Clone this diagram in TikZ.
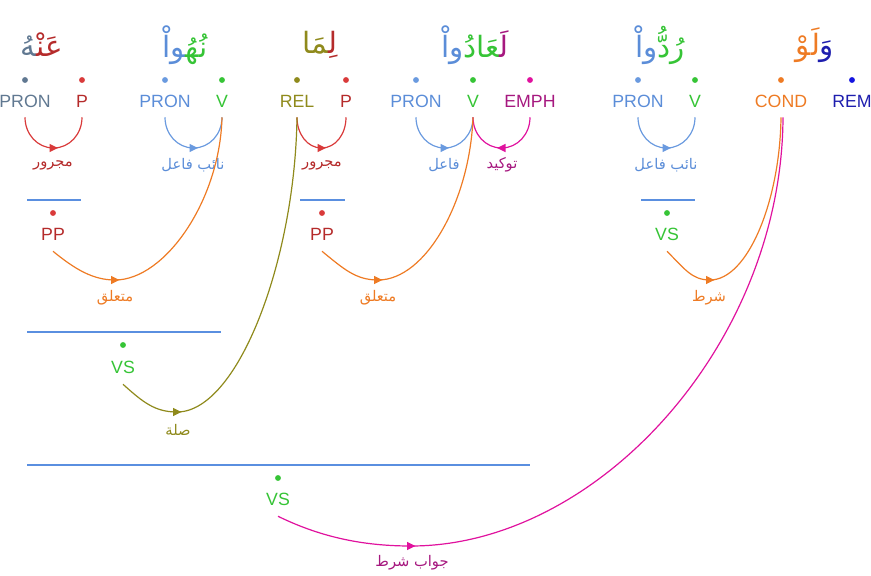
\documentclass[tikz,border=0pt]{standalone}
\usepackage{fontspec}
\setmainfont{Liberation Sans}
\newfontfamily\arabicfont[Script=Arabic]{DejaVu Sans}
\TeXXeTstate=1
\usetikzlibrary{calc}
\def\zj{^^^^200d}
\newcommand\arb[1]{\arabicfont\beginR #1\endR}
\definecolor{slate}{HTML}{607891}
\definecolor{redc}{HTML}{D93A3A}
\definecolor{redt}{HTML}{B52B2B}
\definecolor{bluec}{HTML}{6A9ADF}
\definecolor{bluet}{HTML}{5B8DD8}
\definecolor{greenc}{HTML}{36C436}
\definecolor{olive}{HTML}{8F8A1C}
\definecolor{magc}{HTML}{E0129E}
\definecolor{magt}{HTML}{A6187F}
\definecolor{orangec}{HTML}{EE7B24}
\definecolor{dbluec}{HTML}{1414E0}
\definecolor{dbluet}{HTML}{1E1EAE}
\definecolor{linec}{HTML}{5A8FE0}
\tikzset{
  x=0.75pt, y=-0.75pt,
  word/.style={inner sep=0pt, font=\arabicfont\fontsize{22}{26}\selectfont},
  tag/.style={inner sep=0pt, minimum height=24pt, font=\fontsize{13.3}{16}\selectfont},
  phr/.style={inner sep=0pt, minimum height=25.5pt, font=\fontsize{13.3}{16}\selectfont},
  rel/.style={inner sep=0pt, font=\arabicfont\fontsize{11}{13}\selectfont},
  arcline/.style={line width=0.9pt},
  pline/.style={line width=1.1pt, linec},
  tipR/.pic={\fill (4.5,0) -- (-4,-4.2) -- (-4,4.2) -- cycle;},
  tipL/.pic={\fill (-4.5,0) -- (4,-4.2) -- (4,4.2) -- cycle;},
}
\begin{document}
\begin{tikzpicture}
\useasboundingbox (0,0) rectangle (871,575);
% words (pieces in visual order, left to right)
\node[word] (w1) at (42,45) {{\color{slate}\zj هُ}{\color{redt}عَنْ\zj}};
\node[word] (w2) at (185,45) {{\color{bluet}\zj واْ}{\color{greenc}نُهُ\zj}};
\node[word] (w3) at (320,45) {{\color{olive}\zj مَا}{\color{redt}لِ\zj}};
\node[word] (w4) at (475,45) {{\color{bluet}واْ}{\color{greenc}\zj عَادُ}{\color{magt}لَ\zj}};
\node[word] (w5) at (660,45) {{\color{bluet}واْ}{\color{greenc}رُدُّ}};
\node[word] (w6) at (815,45) {{\color{orangec}لَوْ}{\color{dbluet}وَ}};
% dots
\foreach \x/\c in {25/slate,82/redc,165/bluec,222/greenc,297/olive,346/redc,416/bluec,473/greenc,530/magc,638/bluec,695/greenc,781/orangec,852/dbluec}
  \fill[\c] (\x,80) circle (2.2pt);
% tags
\node[tag, text=slate] (t1) at (25,101) {PRON};
\node[tag, text=redt] (t2) at (82,101) {P};
\node[tag, text=bluet] (t3) at (165,101) {PRON};
\node[tag, text=greenc] (t4) at (222,101) {V};
\node[tag, text=olive] (t5) at (297,101) {REL};
\node[tag, text=redt] (t6) at (346,101) {P};
\node[tag, text=bluet] (t7) at (416,101) {PRON};
\node[tag, text=greenc] (t8) at (473,101) {V};
\node[tag, text=magt] (t9) at (530,101) {EMPH};
\node[tag, text=bluet] (t10) at (638,101) {PRON};
\node[tag, text=greenc] (t11) at (695,101) {V};
\node[tag, text=orangec] (t12) at (781,101) {COND};
\node[tag, text=dbluet] (t13) at (852,101) {REM};
% small arcs
\coordinate (m1) at (53.5,148);
\coordinate (m2) at (193.5,148);
\coordinate (m3) at (321.5,148);
\coordinate (m4) at (444.5,148);
\coordinate (m5) at (501.5,148);
\coordinate (m6) at (666.5,148);
\draw[arcline, redc] (t1.south) .. controls +(0,17) and +(-16,0) .. (m1) .. controls +(16,0) and +(0,17) .. (t2.south);
\pic[redc] at (m1) {tipR};
\node[rel, text=redt] (l1) at (53,165) {\arb{مجرور}};
\draw[arcline, bluec] (t3.south) .. controls +(0,17) and +(-16,0) .. (m2) .. controls +(16,0) and +(0,17) .. (t4.south);
\pic[bluec] at (m2) {tipR};
\node[rel, text=bluet] (l2) at (193,165) {\arb{نائب فاعل}};
\draw[arcline, redc] (t5.south) .. controls +(0,17) and +(-14,0) .. (m3) .. controls +(14,0) and +(0,17) .. (t6.south);
\pic[redc] at (m3) {tipR};
\node[rel, text=redt] (l3) at (322,165) {\arb{مجرور}};
\draw[arcline, bluec] (t7.south) .. controls +(0,17) and +(-16,0) .. (m4) .. controls +(16,0) and +(0,17) .. (t8.south);
\pic[bluec] at (m4) {tipR};
\node[rel, text=bluet] (l4) at (444,165) {\arb{فاعل}};
\draw[arcline, magc] (t9.south) .. controls +(0,17) and +(16,0) .. (m5) .. controls +(-16,0) and +(0,17) .. (t8.south);
\pic[magc] at (m5) {tipL};
\node[rel, text=magt] (l5) at (502,165) {\arb{توكيد}};
\draw[arcline, bluec] (t10.south) .. controls +(0,17) and +(-16,0) .. (m6) .. controls +(16,0) and +(0,17) .. (t11.south);
\pic[bluec] at (m6) {tipR};
\node[rel, text=bluet] (l6) at (666,165) {\arb{نائب فاعل}};
% phrase lines
\draw[pline] (27,200) -- (81,200);
\draw[pline] (300,200) -- (345,200);
\draw[pline] (641,200) -- (695,200);
\draw[pline] (27,332) -- (221,332);
\draw[pline] (27,465) -- (530,465);
% phrase dots and labels
\fill[redc] (53,213) circle (2.2pt);
\fill[redc] (322,213) circle (2.2pt);
\fill[greenc] (667,213) circle (2.2pt);
\fill[greenc] (123,345) circle (2.2pt);
\fill[greenc] (278,478) circle (2.2pt);
\node[phr, text=redt] (p1) at (53,234) {PP};
\node[phr, text=redt] (p2) at (322,234) {PP};
\node[phr, text=greenc] (p3) at (667,234) {VS};
\node[phr, text=greenc] (p4) at (123,367) {VS};
\node[phr, text=greenc] (p5) at (278,499) {VS};
% long arcs
\coordinate (b1) at (115,280);
\coordinate (b2) at (378,280);
\coordinate (b3) at (710,280);
\coordinate (b4) at (177,412);
\coordinate (b5) at (411,546);
\draw[arcline, orangec] (p1.south) .. controls +(22,18) and +(-22,0) .. (b1) .. controls +(50,0) and +(-2,83) .. (t4.south);
\pic[orangec] at (b1) {tipR};
\node[rel, text=orangec] (l7) at (115,298) {\arb{متعلق}};
\draw[arcline, orangec] (p2.south) .. controls +(22,18) and +(-22,0) .. (b2) .. controls +(48,0) and +(-3,83) .. (t8.south);
\pic[orangec] at (b2) {tipR};
\node[rel, text=orangec] (l8) at (378,298) {\arb{متعلق}};
\draw[arcline, orangec] (p3.south) .. controls +(18,18) and +(-18,0) .. (b3) .. controls +(38,0) and +(-1,83) .. (t12.south);
\pic[orangec] at (b3) {tipR};
\node[rel, text=orangec] (l9) at (709,298) {\arb{شرط}};
\draw[arcline, olive] (p4.south) .. controls +(20,18) and +(-22,0) .. (b4) .. controls +(61,0) and +(-2,143) .. (t5.south);
\pic[olive] at (b4) {tipR};
\node[rel, text=olive] (l10) at (178,430) {\arb{صلة}};
\draw[arcline, magc] (p5.south) .. controls +(45,22) and +(-45,0) .. (b5) .. controls +(187,0) and +(-1,226) .. ([xshift=1.5pt]t12.south);
\pic[magc] at (b5) {tipR};
\node[rel, text=magt] (l11) at (412,563) {\arb{جواب شرط}};
\end{tikzpicture}
\end{document}
